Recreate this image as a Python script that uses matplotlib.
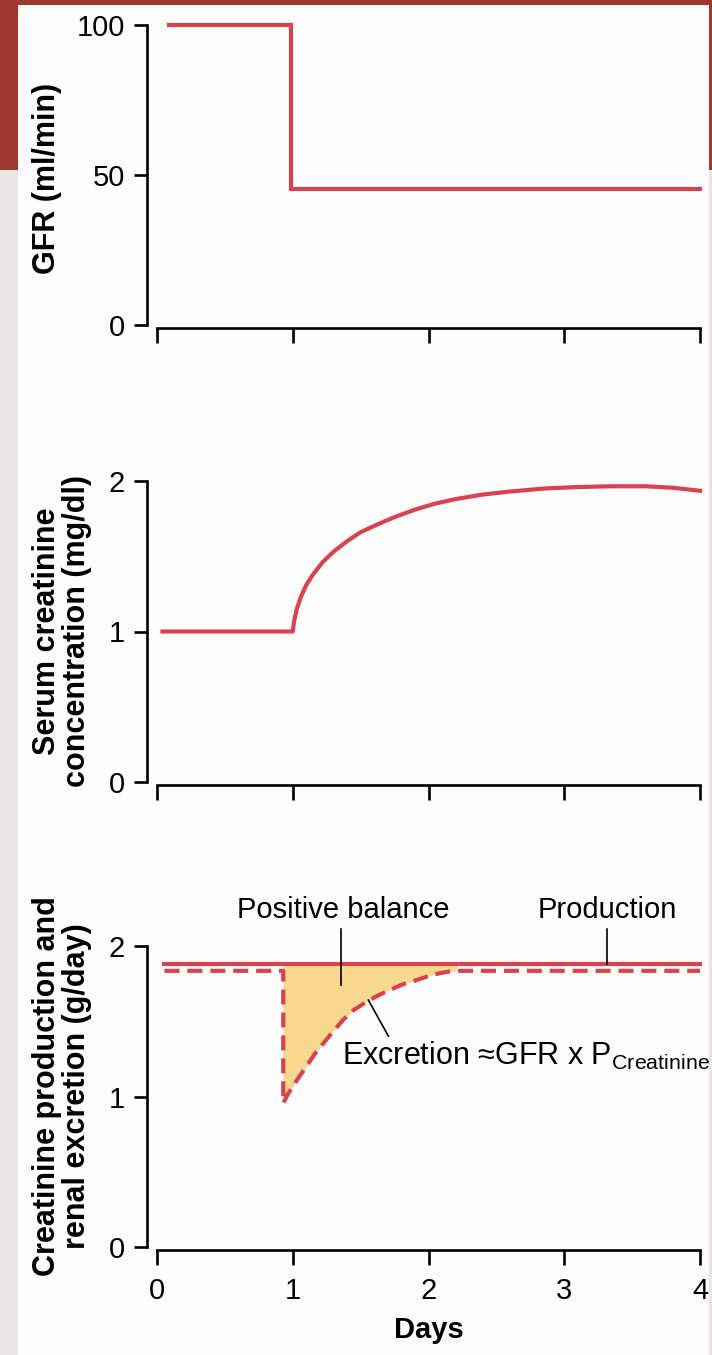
import matplotlib
matplotlib.use("Agg")
import matplotlib.pyplot as plt
from matplotlib.patches import Rectangle

plt.rcParams['font.family'] = ['Liberation Sans', 'DejaVu Sans']
plt.rcParams['mathtext.fontset'] = 'custom'
plt.rcParams['mathtext.rm'] = 'Liberation Sans'
plt.rcParams['mathtext.it'] = 'Liberation Sans:italic'

# --- data ---
day_ticks = [0, 1, 2, 3, 4]

gfr_days = [0.09, 0.99, 0.99, 4.0]
gfr = [100, 100, 45.5, 45.5]
gfr_ticks = [0, 50, 100]

serum_days = [0.04, 1.0, 1.01, 1.03, 1.06, 1.1, 1.15, 1.22, 1.3, 1.4, 1.5, 1.62,
              1.75, 1.9, 2.05, 2.2, 2.4, 2.6, 2.85, 3.1, 3.35, 3.6, 3.8, 4.0]
serum = [1.0, 1.0, 1.07, 1.15, 1.23, 1.31, 1.38, 1.46, 1.53, 1.60, 1.66, 1.71,
         1.76, 1.81, 1.85, 1.88, 1.91, 1.93, 1.95, 1.96, 1.965, 1.965, 1.955, 1.935]
serum_ticks = [0, 1, 2]

prod_days = [0.055, 4.0]
production = [1.878, 1.878]
exc_days = [0.055, 0.93, 0.93, 0.96, 1.0, 1.05, 1.1, 1.16, 1.225, 1.3, 1.37, 1.45,
            1.545, 1.63, 1.716, 1.81, 1.913, 2.0, 2.085, 2.15, 2.21, 4.0]
excretion = [1.835, 1.835, 0.955, 1.01, 1.065, 1.135, 1.198, 1.28, 1.353, 1.435,
             1.508, 1.575, 1.63, 1.672, 1.708, 1.745, 1.774, 1.80, 1.82, 1.83,
             1.835, 1.835]
bal_start, bal_end = 2, 21
balance_ticks = [0, 1, 2]

RED = '#d8434f'
FILL = '#f8d88f'
W, H = 712, 1355

fig = plt.figure(figsize=(W / 100, H / 100), dpi=100, facecolor='#e8e6e2')
# slide decoration: dark red band behind the white picture
fig.patches.append(Rectangle((0, 1 - 170 / H), 1, 170 / H, transform=fig.transFigure,
                             facecolor='#a0382e', edgecolor='none', zorder=-2))
fig.patches.append(Rectangle((18 / W, 0), (709 - 18) / W, 1 - 5 / H, transform=fig.transFigure,
                             facecolor='#fdfdfd', edgecolor='none', zorder=-1))


def make_axes(y_zero_px, y_top_px, ylim, yticks, show_xlabels):
    left = 157 / W
    width = (700 - 157) / W
    bottom = 1 - y_zero_px / H
    height = (y_zero_px - y_top_px) / H
    ax = fig.add_axes([left, bottom, width, height])
    ax.set_facecolor('none')
    ax.set_xlim(0, 4)
    ax.set_ylim(*ylim)
    for s in ['top', 'right']:
        ax.spines[s].set_visible(False)
    ax.spines['left'].set_position(('outward', 7))
    ax.spines['bottom'].set_position(('outward', 2.2))
    ax.spines['left'].set_bounds(ylim[0], ylim[1])
    ax.spines['bottom'].set_bounds(0, 4)
    for s in ['left', 'bottom']:
        ax.spines[s].set_linewidth(1.9)
    ax.set_xticks(day_ticks)
    ax.set_yticks(yticks)
    ax.tick_params(axis='y', direction='out', length=9.5, width=1.9, pad=6.5, labelsize=21)
    ax.tick_params(axis='x', direction='out', length=10.5, width=1.9, pad=9, labelsize=21,
                   labelbottom=show_xlabels)
    return ax


# panel 1: GFR
ax1 = make_axes(325, 25, (0, 100), gfr_ticks, False)
ax1.plot(gfr_days, gfr, color=RED, lw=3.0, clip_on=False, solid_joinstyle='miter')
fig.text(47 / W, 1 - 178 / H, 'GFR (ml/min)', rotation=90, ha='center', va='center',
         fontsize=22, fontweight='bold')

# panel 2: serum creatinine
ax2 = make_axes(782, 481, (0, 2), serum_ticks, False)
ax2.plot(serum_days, serum, color=RED, lw=3.0, clip_on=False)
fig.text(62 / W, 1 - 631 / H, 'Serum creatinine\nconcentration (mg/dl)', rotation=90,
         ha='center', va='center', fontsize=22, fontweight='bold', linespacing=1.0)

# panel 3: production vs excretion
ax3 = make_axes(1247, 946, (0, 2), balance_ticks, True)
ax3.fill_between(exc_days[bal_start:bal_end], excretion[bal_start:bal_end], production[0],
                 color=FILL, lw=0, zorder=1)
ax3.plot(prod_days, production, color=RED, lw=3.0, clip_on=False, zorder=3)
ax3.plot(exc_days, excretion, color=RED, lw=3.0, ls=(0, (3.6, 1.9)), clip_on=False, zorder=3)

ax3.plot([1.353, 1.353], [2.11, 1.74], color='black', lw=1.2, clip_on=False, zorder=4)
ax3.plot([3.315, 3.315], [2.11, 1.878], color='black', lw=1.2, clip_on=False, zorder=4)
ax3.plot([1.557, 1.704], [1.641, 1.402], color='black', lw=1.2, clip_on=False, zorder=4)
ax3.text(1.373, 2.24, 'Positive balance', ha='center', va='center', fontsize=21)
ax3.text(3.32, 2.24, 'Production', ha='center', va='center', fontsize=21)
ax3.text(1.363, 1.27, 'Excretion \u2248GFR x P$_{\\mathrm{Creatinine}}$', ha='left',
         va='center', fontsize=22)

ax3.set_xlabel('Days', fontsize=21, fontweight='bold', labelpad=8)
fig.text(62 / W, 1 - 1086 / H, 'Creatinine production and\nrenal excretion (g/day)',
         rotation=90, ha='center', va='center', fontsize=22, fontweight='bold',
         linespacing=1.0)

fig.savefig('out.png', dpi=100, facecolor=fig.get_facecolor())
